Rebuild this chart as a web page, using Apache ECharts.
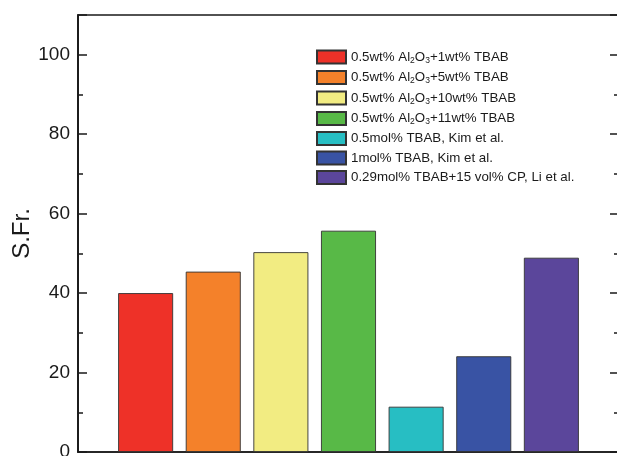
<!DOCTYPE html>
<html>
<head>
<meta charset="utf-8">
<script src="https://cdn.jsdelivr.net/npm/echarts@6/dist/echarts.min.js"></script>
<style>html,body{margin:0;padding:0;background:#fff}#c{width:617px;height:456px}</style>
</head>
<body>
<div id="c"></div>
<script>
const categories = [
  '0.5wt% Al2O3+1wt% TBAB',
  '0.5wt% Al2O3+5wt% TBAB',
  '0.5wt% Al2O3+10wt% TBAB',
  '0.5wt% Al2O3+11wt% TBAB',
  '0.5mol% TBAB, Kim et al.',
  '1mol% TBAB, Kim et al.',
  '0.29mol% TBAB+15 vol% CP, Li et al.'
];
const positions = [1, 2, 3, 4, 5, 6, 7];
const values = [40.0, 45.4, 50.3, 55.7, 11.4, 24.1, 48.9];
const colors = ['#EE3128', '#F4812A', '#F2EC82', '#58B947', '#27BEC3', '#3953A4', '#5B469B'];
const yTicksMajor = 20;
const yTicksMinor = 10;

const axisColor = '#1a1a1a';
const FF = 'Liberation Sans, Arial, sans-serif';
function yAx(pos, interval, len, labels) {
  return {
    type: 'value', position: pos, min: 0, max: 110, interval: interval,
    axisLine: { show: true, onZero: false, lineStyle: { color: axisColor, width: 1.5 } },
    axisTick: { show: true, inside: true, length: len, lineStyle: { color: axisColor, width: 1.5 } },
    axisLabel: labels ? {
      show: true, fontFamily: FF, fontSize: 19, color: '#1a1a1a', margin: 8,
      formatter: v => (v % 20 === 0 && v <= 100) ? String(v) : ''
    } : { show: false },
    splitLine: { show: false },
    name: labels ? 'S.Fr.' : '',
    nameLocation: 'middle', nameGap: 44, nameRotate: 90, nameMoveOverlap: false,
    nameTextStyle: { fontFamily: FF, fontSize: 24, color: '#1a1a1a' }
  };
}

const chart = echarts.init(document.getElementById('c'));
chart.setOption({
  animation: false,
  backgroundColor: '#fff',
  grid: { left: 78, top: 15, width: 541, height: 437, show: true, borderColor: axisColor, borderWidth: 1.5, outerBoundsMode: 'none', containLabel: false },
  xAxis: {
    type: 'value', min: 0, max: 8,
    axisLine: { show: true, lineStyle: { color: axisColor, width: 1.5 } },
    axisTick: { show: false }, axisLabel: { show: false }, splitLine: { show: false }
  },
  yAxis: [
    yAx('left', yTicksMajor, 9, true),
    yAx('left', yTicksMinor, 5, false),
    yAx('right', yTicksMajor, 9, false),
    yAx('right', yTicksMinor, 5, false)
  ],
  legend: {
    orient: 'vertical', left: 316, top: 49, padding: 0,
    icon: 'rect',
    itemWidth: 29, itemHeight: 13, itemGap: 4.5,
    data: categories,
    textStyle: {
      fontFamily: FF, fontSize: 13.3, color: '#1a1a1a',
      rich: {
        n: { fontFamily: FF, fontSize: 13.3, color: '#1a1a1a', lineHeight: 16 },
        s: { fontFamily: FF, fontSize: 8.5, color: '#1a1a1a', lineHeight: 16, verticalAlign: 'bottom', padding: [7, 0, 0, 0] }
      }
    },
    formatter: function (name) {
      const m = name.match(/^(.*Al)2O3(.*)$/);
      if (m) return '{n|' + m[1] + '}{s|2}{n|O}{s|3}{n|' + m[2] + '}';
      return '{n|' + name + '}';
    }
  },
  series: categories.map((name, i) => ({
    name: name, type: 'bar', stack: 'all', barWidth: 55,
    itemStyle: { color: colors[i], borderColor: '#333333', borderWidth: 0.9 },
    data: [[positions[i], values[i]]]
  }))
});
</script>
</body>
</html>
